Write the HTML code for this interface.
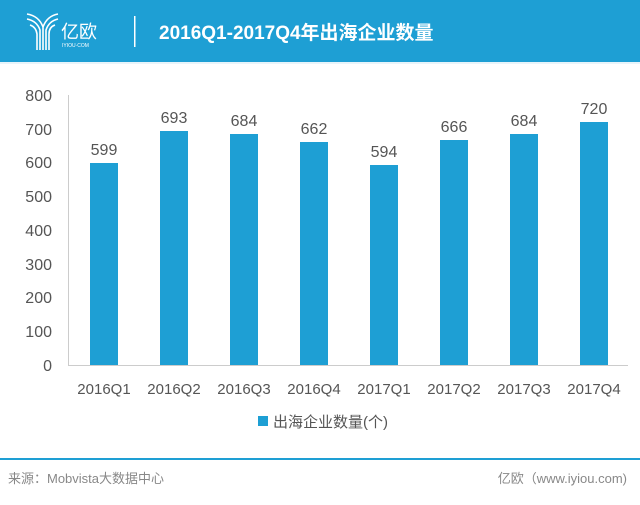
<!DOCTYPE html>
<html><head><meta charset="utf-8"><style>
body{margin:0;width:640px;height:500px;background:#fff;overflow:hidden;font-family:"Liberation Sans","Noto Sans CJK SC",sans-serif;}
</style></head><body>
<svg width="640" height="500" xmlns="http://www.w3.org/2000/svg" font-family="Liberation Sans, Noto Sans CJK SC, sans-serif">
<rect x="0" y="0" width="640" height="62" fill="#1e9fd4"/>
<rect x="0" y="62" width="640" height="2" fill="#e8f4fa"/>
<g stroke="#fff" stroke-width="1.6" fill="none">
<path d="M27 14 q12 2 16 13 v23"/><path d="M27 19 q10 2 13 11 v20"/><path d="M30 25 q6 2 7 9 v16"/>
<path d="M58 14 q-11 2 -15 13"/><path d="M58 19 q-9 2 -12 11 v20"/><path d="M55 25 q-6 2 -6 9 v16"/>
</g>
<text x="61" y="38" font-size="18" fill="#fff">亿欧</text>
<text x="62" y="47" font-size="5" fill="#fff">IYIOU·COM</text>
<rect x="134" y="16" width="1.5" height="31" fill="#fff"/>
<text x="159" y="39" font-size="19" font-weight="bold" fill="#fff">2016Q1-2017Q4年出海企业数量</text>
<g font-size="16" fill="#555" text-anchor="end">
<text x="52" y="371">0</text><text x="52" y="337">100</text><text x="52" y="303">200</text><text x="52" y="270">300</text><text x="52" y="236">400</text><text x="52" y="202">500</text><text x="52" y="168">600</text><text x="52" y="135">700</text><text x="52" y="101">800</text>
</g>
<line x1="68.5" y1="95" x2="68.5" y2="365" stroke="#ccc"/>
<line x1="68" y1="365.5" x2="628" y2="365.5" stroke="#ccc"/>
<g fill="#1e9fd4">
<rect x="90" y="163" width="28" height="202"/>
<rect x="160" y="131" width="28" height="234"/>
<rect x="230" y="134" width="28" height="231"/>
<rect x="300" y="142" width="28" height="223"/>
<rect x="370" y="165" width="28" height="200"/>
<rect x="440" y="140" width="28" height="225"/>
<rect x="510" y="134" width="28" height="231"/>
<rect x="580" y="122" width="28" height="243"/>
</g>
<g font-size="16" fill="#555" text-anchor="middle">
<text x="104" y="155">599</text><text x="174" y="123">693</text><text x="244" y="126">684</text><text x="314" y="134">662</text>
<text x="384" y="157">594</text><text x="454" y="132">666</text><text x="524" y="126">684</text><text x="594" y="114">720</text>
</g>
<g font-size="15" fill="#555" text-anchor="middle">
<text x="104" y="394">2016Q1</text><text x="174" y="394">2016Q2</text><text x="244" y="394">2016Q3</text><text x="314" y="394">2016Q4</text>
<text x="384" y="394">2017Q1</text><text x="454" y="394">2017Q2</text><text x="524" y="394">2017Q3</text><text x="594" y="394">2017Q4</text>
</g>
<rect x="258" y="416" width="10" height="10" fill="#1e9fd4"/>
<text x="273" y="427" font-size="15" fill="#555">出海企业数量(个)</text>
<rect x="0" y="458" width="640" height="2" fill="#1e9fd4"/>
<text x="8" y="483" font-size="13" fill="#888">来源：Mobvista大数据中心</text>
<text x="627" y="483" font-size="13" fill="#888" text-anchor="end">亿欧（www.iyiou.com)</text>
</svg>
</body></html>
